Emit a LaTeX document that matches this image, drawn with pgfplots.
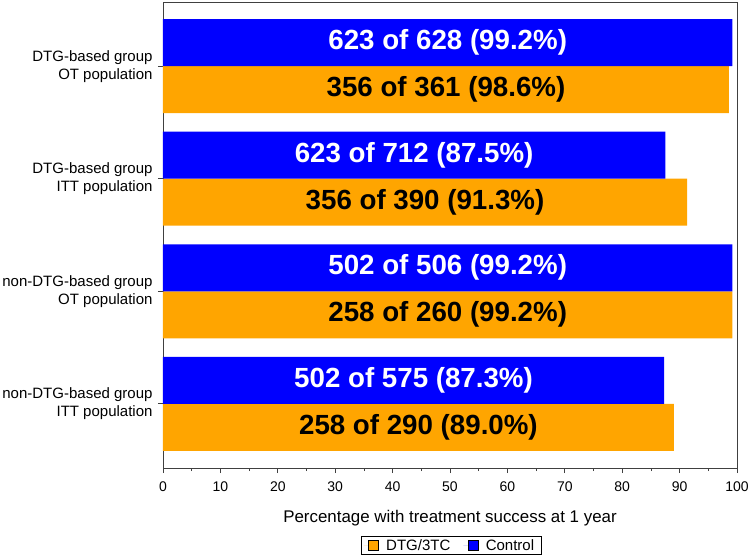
\documentclass[border=0pt]{standalone}
\usepackage{fontspec}
\setmainfont{Liberation Sans}
\usepackage{pgfplots}
\usepackage{pgfplotstable}
\pgfplotsset{compat=1.18}

\definecolor{ctrlblue}{HTML}{0000FF}
\definecolor{dtgorange}{HTML}{FFA500}
\definecolor{framegray}{HTML}{404040}

\newcommand\tickfont{\fontsize{14bp}{17bp}\selectfont}
\newcommand\lblfont{\fontsize{15bp}{18bp}\selectfont}
\newcommand\xlblfont{\fontsize{16.9bp}{20bp}\selectfont}
\newcommand\barfont{\fontsize{27.7bp}{31bp}\selectfont\bfseries}

% success at 1 year, top group first
\pgfplotstableread[col sep=comma]{
pos,ctrl,dtg,ctrllabel,dtglabel
4,99.2,98.6,623 of 628 (99.2\%),356 of 361 (98.6\%)
3,87.5,91.3,623 of 712 (87.5\%),356 of 390 (91.3\%)
2,99.2,99.2,502 of 506 (99.2\%),258 of 260 (99.2\%)
1,87.3,89.0,502 of 575 (87.3\%),258 of 290 (89.0\%)
}\results

\pgfplotsset{
  sq legend/.style={
    legend image code/.code={%
      \path (0bp,0bp) -- (15bp,0bp);
      \draw[##1, draw=black, line width=0.8bp] (5bp,-5bp) rectangle (15bp,5bp);}
  }
}

\begin{document}
\begin{tikzpicture}
\path[use as bounding box] (-163bp,-91bp) rectangle (587bp,468bp);
\begin{axis}[
  at={(0,0)}, anchor=south west,
  scale only axis, width=574bp, height=466bp,
  xmin=0, xmax=100, ymin=0.43, ymax=4.57,
  xtick={0,10,...,100}, minor x tick num=1,
  ytick={1,2,3,4},
  yticklabels={{non-DTG-based group\\ITT population},{non-DTG-based group\\OT population},{DTG-based group\\ITT population},{DTG-based group\\OT population}},
  yticklabel style={align=right, font=\lblfont, xshift=-2bp},
  xticklabel style={font=\tickfont, yshift=-5bp},
  /pgf/number format/assume math mode=true,
  tick align=outside, xtick pos=lower, ytick pos=lower,
  major tick length=5bp, minor tick length=3bp,
  axis line style={framegray, line width=0.8bp},
  tick style={framegray, line width=0.8bp},
  xlabel={Percentage with treatment success at 1 year},
  xlabel style={font=\xlblfont, at={(axis description cs:0.5,-0.107)}, anchor=center},
  legend style={at={(axis description cs:0.5026,-0.1663)}, anchor=center,
    legend columns=2, draw=black, line width=0.8bp, font=\lblfont,
    inner xsep=2bp, inner ysep=1.5bp,
    nodes={inner xsep=5bp, inner ysep=1bp},
    /tikz/every odd column/.append style={column sep=2bp},
    /tikz/every even column/.append style={column sep=8bp}},
]
\addplot[xbar, bar width=47bp, bar shift=-23.5bp, fill=dtgorange, draw=none, sq legend]
  table[x=dtg, y=pos] {\results};
\addlegendentry{DTG/3TC}
\addplot[xbar, bar width=47bp, bar shift=23.5bp, fill=ctrlblue, draw=none, sq legend]
  table[x=ctrl, y=pos] {\results};
\addlegendentry{Control}

% counts written in the middle of each bar
\addplot[forget plot, draw=none, mark=none, nodes near coords, point meta=explicit symbolic,
  nodes near coords style={anchor=center, yshift=-23.5bp, text=black, font=\barfont}]
  table[x expr=\thisrow{dtg}/2, y=pos, meta=dtglabel] {\results};
\addplot[forget plot, draw=none, mark=none, nodes near coords, point meta=explicit symbolic,
  nodes near coords style={anchor=center, yshift=23.5bp, text=white, font=\barfont}]
  table[x expr=\thisrow{ctrl}/2, y=pos, meta=ctrllabel] {\results};
\end{axis}
\end{tikzpicture}
\end{document}
